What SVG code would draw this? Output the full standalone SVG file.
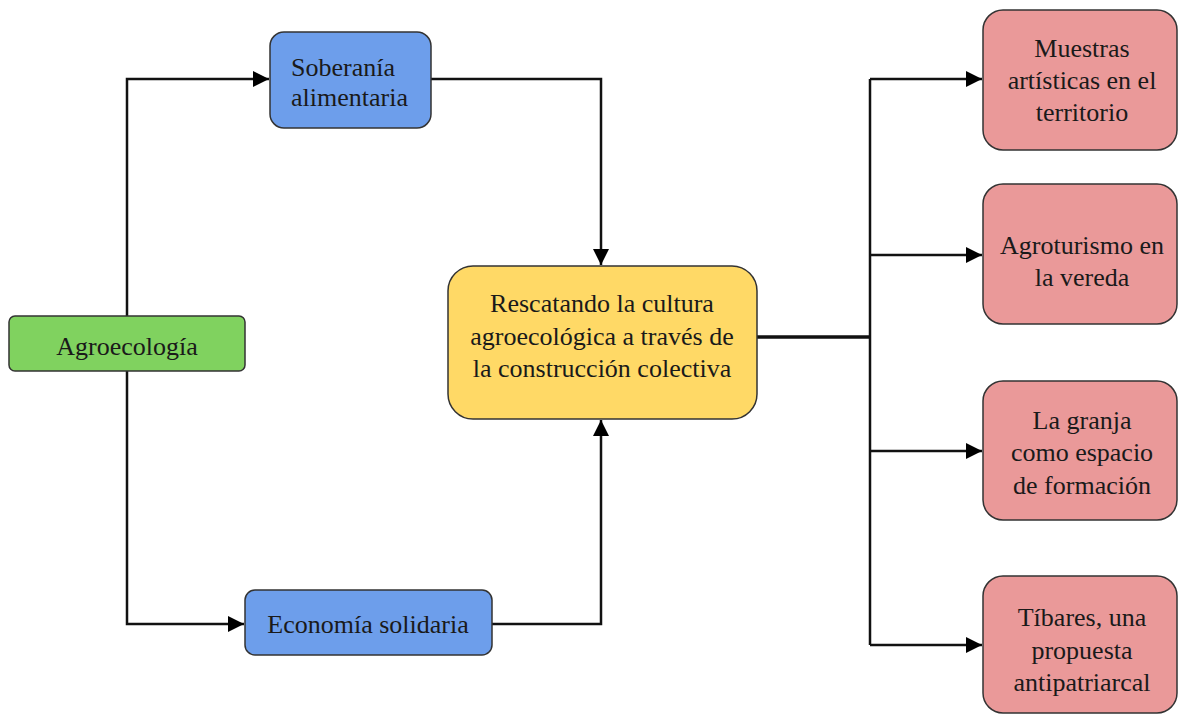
<svg xmlns="http://www.w3.org/2000/svg" width="1179" height="715" viewBox="0 0 1179 715">
<defs>
<marker id="ah" markerWidth="16" markerHeight="16" refX="14" refY="7" orient="auto" markerUnits="userSpaceOnUse" viewBox="0 0 14 14">
<path d="M0,0 L14,7 L0,14 z" fill="#000"/>
</marker>
<style>
.box{stroke:#333;stroke-width:1.5}
.t{font-family:"Liberation Serif","Times New Roman",serif;font-size:26px;fill:#1a1a1a}
.c{text-anchor:middle}
.ln{fill:none;stroke:#111;stroke-width:2.5}
</style>
</defs>
<rect width="1179" height="715" fill="#fff"/>
<g id="connectors">
<path class="ln" d="M127,316 V79 H269" marker-end="url(#ah)"/>
<path class="ln" d="M431,79 H601 V265" marker-end="url(#ah)"/>
<path class="ln" d="M127,371 V624 H244" marker-end="url(#ah)"/>
<path class="ln" d="M492,624 H601 V420" marker-end="url(#ah)"/>
<path class="ln" d="M757,337 H870" style="stroke-width:3.5"/>
<path class="ln" d="M870,79 V645"/>
<path class="ln" d="M870,79 H982" marker-end="url(#ah)"/>
<path class="ln" d="M870,255 H982" marker-end="url(#ah)"/>
<path class="ln" d="M870,451 H982" marker-end="url(#ah)"/>
<path class="ln" d="M870,645 H982" marker-end="url(#ah)"/>
</g>
<g id="agroecologia">
<rect class="box" x="9" y="316" width="236" height="55" rx="6" fill="#80d25f"/>
<text class="t c" x="127" y="355">Agroecología</text>
</g>
<g id="soberania">
<rect class="box" x="270" y="32" width="161" height="96" rx="14" fill="#6d9eeb"/>
<text class="t" x="291" y="76">Soberanía</text>
<text class="t" x="291" y="106">alimentaria</text>
</g>
<g id="economia">
<rect class="box" x="245" y="590" width="247" height="65" rx="10" fill="#6d9eeb"/>
<text class="t c" x="368" y="633">Economía solidaria</text>
</g>
<g id="rescatando">
<rect class="box" x="448" y="266" width="309" height="153" rx="25" fill="#ffd966"/>
<text class="t c" x="602" y="312">Rescatando la cultura</text>
<text class="t c" x="602" y="345">agroecológica a través de</text>
<text class="t c" x="602" y="377">la construcción colectiva</text>
</g>
<g id="muestras">
<rect class="box" x="983" y="10" width="194" height="140" rx="20" fill="#ea9999"/>
<text class="t c" x="1082" y="57">Muestras</text>
<text class="t c" x="1082" y="89">artísticas en el</text>
<text class="t c" x="1082" y="121">territorio</text>
</g>
<g id="agroturismo">
<rect class="box" x="983" y="184" width="194" height="140" rx="20" fill="#ea9999"/>
<text class="t c" x="1082" y="254">Agroturismo en</text>
<text class="t c" x="1082" y="286">la vereda</text>
</g>
<g id="granja">
<rect class="box" x="983" y="381" width="194" height="139" rx="20" fill="#ea9999"/>
<text class="t c" x="1082" y="429">La granja</text>
<text class="t c" x="1082" y="461">como espacio</text>
<text class="t c" x="1082" y="494">de formación</text>
</g>
<g id="tibares">
<rect class="box" x="983" y="576" width="194" height="137" rx="20" fill="#ea9999"/>
<text class="t c" x="1082" y="626">Tíbares, una</text>
<text class="t c" x="1082" y="659">propuesta</text>
<text class="t c" x="1082" y="691">antipatriarcal</text>
</g>
</svg>
